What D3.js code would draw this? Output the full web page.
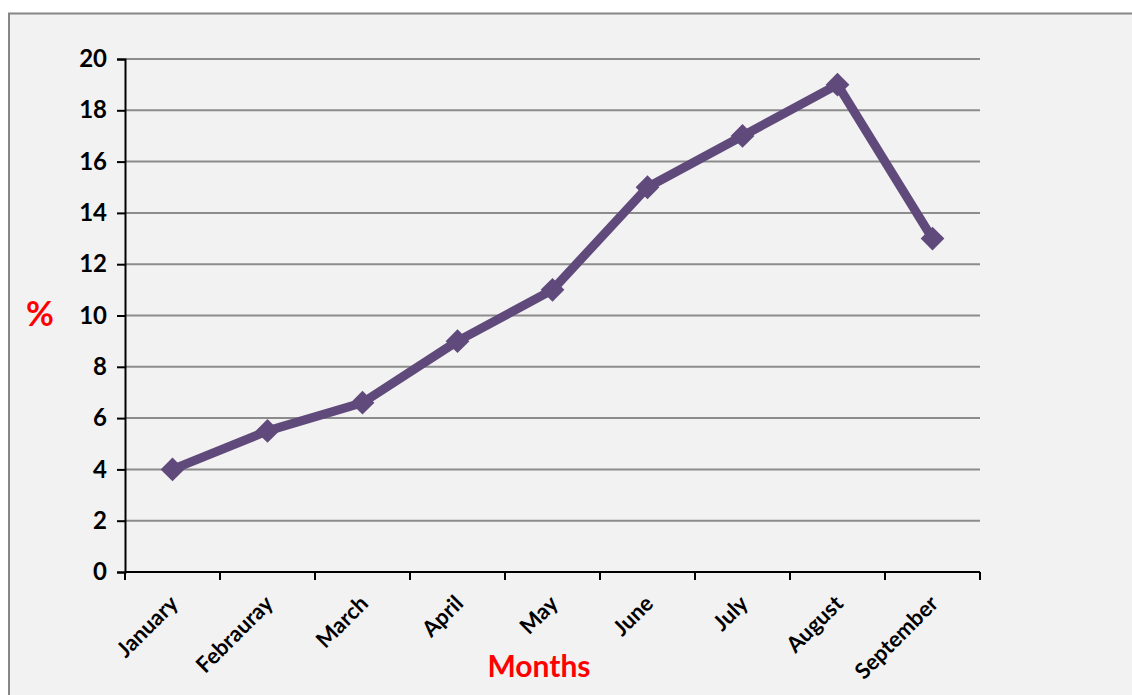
<!DOCTYPE html>
<html>
<head>
<meta charset="utf-8">
<script src="https://cdn.jsdelivr.net/npm/d3@7"></script>
<style>
  body { margin: 0; background: #ffffff; }
  svg { display: block; }
</style>
</head>
<body>
<svg id="chart" width="1132" height="695"></svg>
<script>
var months = ["January", "Febrauray", "March", "April", "May", "June", "July", "August", "September"];
var percent = [4, 5.5, 6.6, 9, 11, 15, 17, 19, 13];
var yTicks = [0, 2, 4, 6, 8, 10, 12, 14, 16, 18, 20];

var svg = d3.select("#chart");
var font = "Lato, 'Open Sans', sans-serif";

// chart area background with border
svg.append("rect")
    .attr("x", 9)
    .attr("y", 13.5)
    .attr("width", 1140)
    .attr("height", 700)
    .attr("fill", "#f2f2f2")
    .attr("stroke", "#868686")
    .attr("stroke-width", 2);

var margin = {left: 125, top: 59, right: 980, bottom: 572};

var x = d3.scaleBand()
    .domain(months)
    .range([margin.left, margin.right]);

var y = d3.scaleLinear()
    .domain([0, 20])
    .range([margin.bottom, margin.top]);

// gridlines
svg.append("g")
    .selectAll("line")
    .data(yTicks.filter(function (d) { return d > 0; }))
    .enter().append("line")
    .attr("x1", margin.left)
    .attr("x2", margin.right)
    .attr("y1", function (d) { return y(d); })
    .attr("y2", function (d) { return y(d); })
    .attr("stroke", "#8c8c8c")
    .attr("stroke-width", 2);

// y axis
var yAxis = svg.append("g")
    .attr("transform", "translate(" + margin.left + ",0)")
    .call(d3.axisLeft(y).tickValues(yTicks).tickSize(8).tickPadding(10));
yAxis.select(".domain").attr("stroke", "#000").attr("stroke-width", 2);
yAxis.selectAll(".tick line").attr("stroke", "#000").attr("stroke-width", 2);
yAxis.selectAll(".tick text")
    .attr("font-family", font)
    .attr("font-weight", "bold")
    .attr("font-size", 24)
    .attr("fill", "#000");

// x axis with ticks at category boundaries
var xAxisG = svg.append("g");
xAxisG.append("line")
    .attr("x1", margin.left)
    .attr("x2", margin.right)
    .attr("y1", y(0))
    .attr("y2", y(0))
    .attr("stroke", "#000")
    .attr("stroke-width", 2);
var bounds = months.map(function (m) { return x(m); }).concat([margin.right]);
xAxisG.selectAll(".xtick")
    .data(bounds)
    .enter().append("line")
    .attr("class", "xtick")
    .attr("x1", function (d) { return d; })
    .attr("x2", function (d) { return d; })
    .attr("y1", y(0))
    .attr("y2", y(0) + 8)
    .attr("stroke", "#000")
    .attr("stroke-width", 2);

xAxisG.selectAll(".xlabel")
    .data(months)
    .enter().append("text")
    .attr("class", "xlabel")
    .attr("transform", function (d) {
        return "translate(" + (x(d) + x.bandwidth() / 2 + 7) + "," + (y(0) + 33) + ") rotate(-45)";
    })
    .attr("text-anchor", "end")
    .attr("font-family", font)
    .attr("font-weight", "bold")
    .attr("font-size", 22)
    .attr("fill", "#000")
    .text(function (d) { return d; });

// line
var line = d3.line()
    .x(function (d, i) { return x(months[i]) + x.bandwidth() / 2; })
    .y(function (d) { return y(d); });

svg.append("path")
    .datum(percent)
    .attr("d", line)
    .attr("fill", "none")
    .attr("stroke", "#604a7b")
    .attr("stroke-width", 9)
    .attr("stroke-linejoin", "round");

// diamond markers
svg.append("g")
    .selectAll("path")
    .data(percent)
    .enter().append("path")
    .attr("d", d3.symbol().type(d3.symbolDiamond2).size(360))
    .attr("transform", function (d, i) {
        return "translate(" + (x(months[i]) + x.bandwidth() / 2) + "," + y(d) + ")";
    })
    .attr("fill", "#604a7b");

// axis titles
svg.append("text")
    .attr("x", 539)
    .attr("y", 677)
    .attr("text-anchor", "middle")
    .attr("font-family", font)
    .attr("font-weight", "bold")
    .attr("font-size", 30)
    .attr("fill", "#ff0000")
    .text("Months");

svg.append("text")
    .attr("x", 40)
    .attr("y", 326)
    .attr("text-anchor", "middle")
    .attr("font-family", font)
    .attr("font-weight", "bold")
    .attr("font-size", 34)
    .attr("fill", "#ff0000")
    .text("%");
</script>
</body>
</html>
